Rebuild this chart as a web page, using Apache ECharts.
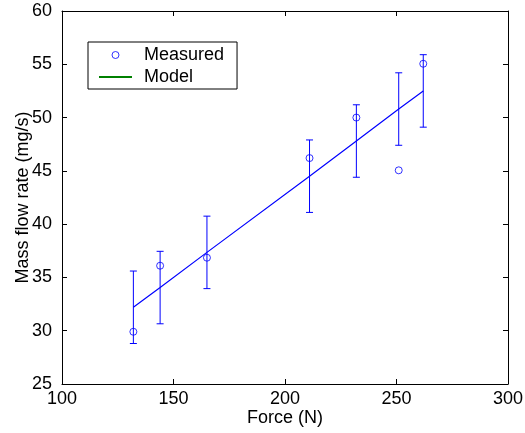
<!DOCTYPE html>
<html>
<head>
<meta charset="utf-8">
<script src="https://cdn.jsdelivr.net/npm/echarts@6/dist/echarts.min.js"></script>
<style>html,body{margin:0;padding:0;background:#fff;}#c{width:525px;height:433px;}</style>
</head>
<body>
<div id="c"></div>
<script>
const force = [132, 144, 165, 211, 232, 251, 262];
const measured = [29.9, 36.1, 36.85, 46.2, 50.0, 45.05, 55.05];
const model = [32.2, 34.05, 37.35, 44.5, 47.8, 50.8, 52.5];
const errorHalf = [3.4, 3.4, 3.4, 3.4, 3.4, 3.4, 3.4];
const xTicks = [100, 150, 200, 250, 300];
const yTicks = [25, 30, 35, 40, 45, 50, 55, 60];

const FONT = 'Liberation Sans, Arial, Helvetica, sans-serif';
const BLUE = '#0000ff';

const chart = echarts.init(document.getElementById('c'), null, {renderer: 'canvas'});

const errData = force.map((x, i) => [x, model[i] - errorHalf[i], model[i] + errorHalf[i]]);

const axisCommon = {
  axisLine: {show: true, lineStyle: {color: '#000', width: 1}},
  axisTick: {show: true, inside: true, length: 5, lineStyle: {color: '#000'}},
  splitLine: {show: false}
};

chart.setOption({
  animation: false,
  backgroundColor: '#fff',
  textStyle: {fontFamily: FONT},
  grid: {left: 62, right: 17, top: 11, bottom: 49, containLabel: false, outerBoundsMode: 'none'},
  xAxis: [
    Object.assign({
      type: 'value', min: xTicks[0], max: xTicks[xTicks.length - 1], interval: 50,
      position: 'bottom',
      name: 'Force (N)', nameLocation: 'middle', nameGap: 25, nameMoveOverlap: false,
      nameTextStyle: {fontSize: 18, color: '#000', fontFamily: FONT},
      axisLabel: {fontSize: 18, color: '#000', margin: 6, fontFamily: FONT}
    }, axisCommon),
    Object.assign({
      type: 'value', min: xTicks[0], max: xTicks[xTicks.length - 1], interval: 50,
      position: 'top', axisLabel: {show: false}
    }, axisCommon)
  ],
  yAxis: [
    Object.assign({
      type: 'value', min: yTicks[0], max: yTicks[yTicks.length - 1], interval: 5,
      position: 'left',
      name: 'Mass flow rate (mg/s)', nameLocation: 'middle', nameGap: 30, nameMoveOverlap: false,
      nameTextStyle: {fontSize: 18, color: '#000', fontFamily: FONT},
      axisLabel: {fontSize: 18, color: '#000', margin: 10, fontFamily: FONT}
    }, axisCommon),
    Object.assign({
      type: 'value', min: yTicks[0], max: yTicks[yTicks.length - 1], interval: 5,
      position: 'right', axisLabel: {show: false}
    }, axisCommon)
  ],
  legend: {
    orient: 'vertical', left: 88, top: 42,
    data: [
      {name: 'Measured', itemStyle: {color: 'rgba(0,0,0,0)', borderColor: BLUE, borderWidth: 1}},
      {name: 'Model', itemStyle: {opacity: 0}}
    ],
    itemWidth: 33, itemHeight: 7, itemGap: 4,
    padding: [4, 13, 3, 10],
    borderColor: '#000', borderWidth: 1, backgroundColor: '#fff',
    textStyle: {fontSize: 18, color: '#000', fontFamily: FONT, padding: [0, 0, 0, 7]}
  },
  series: [
    {
      name: 'ModelLine', type: 'line', xAxisIndex: 0, yAxisIndex: 0,
      data: force.map((x, i) => [x, model[i]]),
      showSymbol: false, symbol: 'none',
      lineStyle: {color: BLUE, width: 1.2}, itemStyle: {color: BLUE}, z: 3
    },
    {
      name: 'Errors', type: 'custom', xAxisIndex: 0, yAxisIndex: 0,
      data: errData,
      renderItem: function (params, api) {
        const x = api.value(0);
        const lo = api.coord([x, api.value(1)]);
        const hi = api.coord([x, api.value(2)]);
        const hw = 3.5;
        const st = {stroke: BLUE, lineWidth: 1, fill: null};
        return {
          type: 'group',
          children: [
            {type: 'line', shape: {x1: lo[0], y1: lo[1], x2: hi[0], y2: hi[1]}, style: st},
            {type: 'line', shape: {x1: lo[0] - hw, y1: lo[1], x2: lo[0] + hw, y2: lo[1]}, style: st},
            {type: 'line', shape: {x1: hi[0] - hw, y1: hi[1], x2: hi[0] + hw, y2: hi[1]}, style: st}
          ]
        };
      },
      z: 3
    },
    {
      name: 'Measured', type: 'scatter', xAxisIndex: 0, yAxisIndex: 0,
      data: force.map((x, i) => [x, measured[i]]),
      symbol: 'circle', symbolSize: 7,
      itemStyle: {color: 'rgba(0,0,0,0)', borderColor: BLUE, borderWidth: 1}, z: 4
    },
    {
      name: 'Model', type: 'line', xAxisIndex: 0, yAxisIndex: 0,
      data: [], symbol: 'none', showSymbol: false,
      lineStyle: {color: '#008000', width: 1}, itemStyle: {color: '#008000'}
    }
  ]
});
</script>
</body>
</html>
